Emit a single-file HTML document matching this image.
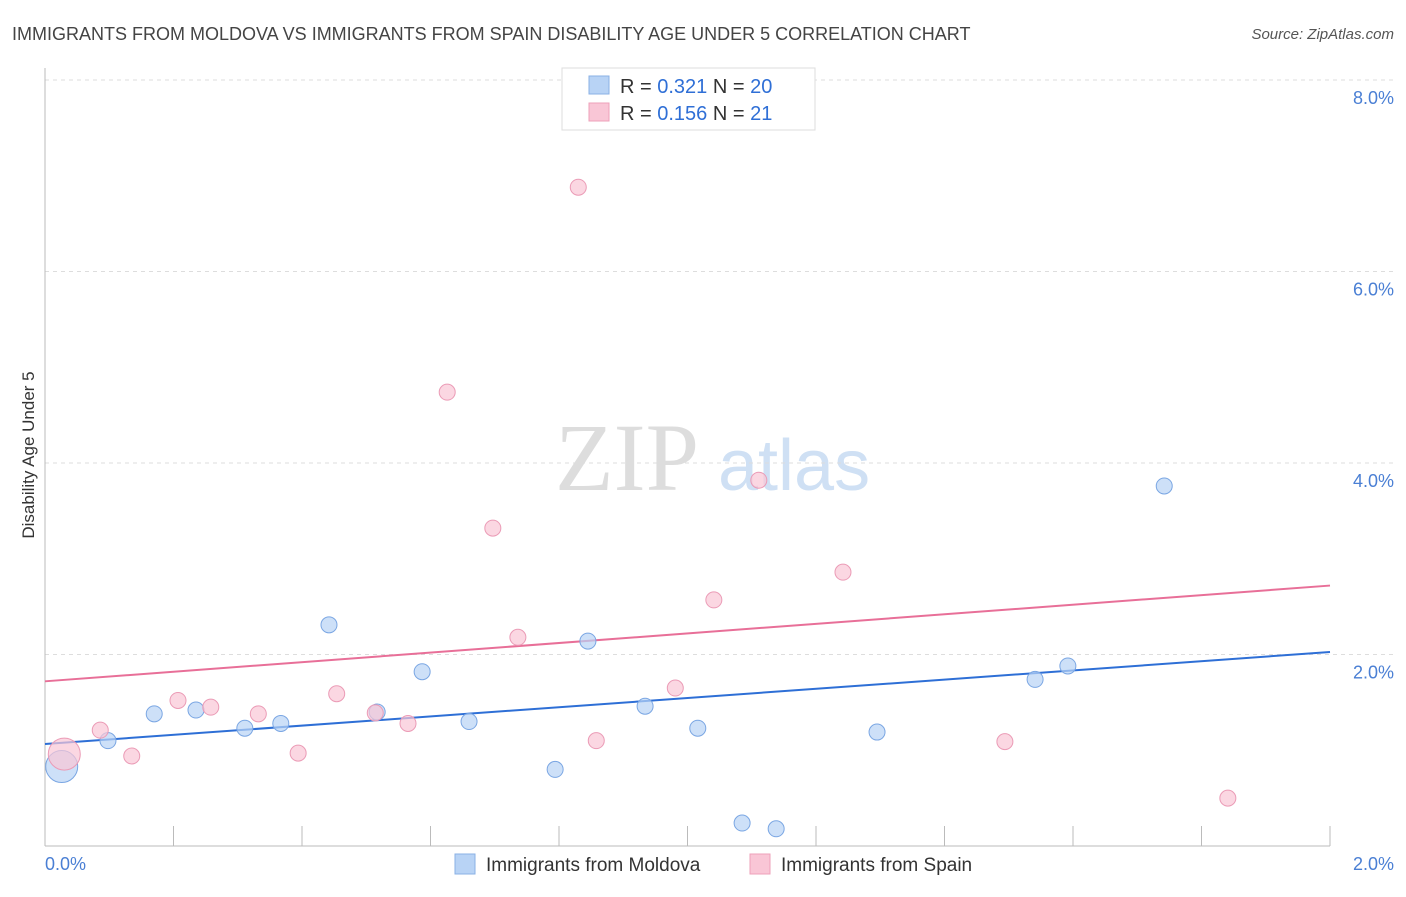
<!DOCTYPE html>
<html><head><meta charset="utf-8"><style>
body{margin:0;background:#fff;font-family:"Liberation Sans",sans-serif;}
</style></head><body>
<svg width="1406" height="892" xmlns="http://www.w3.org/2000/svg" font-family="Liberation Sans, sans-serif">
<text x="12" y="40" font-size="18" fill="#444">IMMIGRANTS FROM MOLDOVA VS IMMIGRANTS FROM SPAIN DISABILITY AGE UNDER 5 CORRELATION CHART</text>
<text x="1394" y="39" font-size="15" fill="#555" text-anchor="end" font-style="italic">Source: ZipAtlas.com</text>
<g><text x="555" y="490" font-size="96" fill="#ddd" font-family="Liberation Serif, serif">ZIP</text><text x="718" y="490" font-size="72" fill="#cfe0f4">atlas</text></g>
<g id="grid"></g><g id="axes"></g><g id="lines"></g><g id="pts"></g>
<text transform="translate(34,455) rotate(-90)" font-size="17" fill="#333" text-anchor="middle">Disability Age Under 5</text>
<text x="45" y="870" font-size="18" fill="#4a7fd4">0.0%</text>
<text x="1394" y="870" font-size="18" fill="#4a7fd4" text-anchor="end">2.0%</text>
<g>
<rect x="562" y="68" width="253" height="62" fill="#fff" stroke="#ddd"/>
<rect x="589" y="76" width="20" height="18" fill="#b8d3f5" stroke="#8ab0e5"/>
<rect x="589" y="103" width="20" height="18" fill="#f9c6d6" stroke="#eea0ba"/>
<text x="620" y="93" font-size="20" fill="#333">R = <tspan fill="#2f6fd6">0.321</tspan>   N = <tspan fill="#2f6fd6">20</tspan></text>
<text x="620" y="120" font-size="20" fill="#333">R = <tspan fill="#2f6fd6">0.156</tspan>   N =  <tspan fill="#2f6fd6">21</tspan></text>
</g>
<g>
<rect x="455" y="854" width="20" height="20" fill="#b8d3f5" stroke="#8ab0e5"/>
<text x="486" y="871" font-size="19" fill="#333">Immigrants from Moldova</text>
<rect x="750" y="854" width="20" height="20" fill="#f9c6d6" stroke="#eea0ba"/>
<text x="781" y="871" font-size="19" fill="#333">Immigrants from Spain</text>
</g>
</svg>
<script>
const yTicks=[2,4,6,8];
const yTickLabels=["2.0%","4.0%","6.0%","8.0%"];
const moldovaX=[0.026,0.098,0.170,0.235,0.311,0.367,0.442,0.517,0.587,0.660,0.794,0.845,0.934,1.016,1.085,1.138,1.295,1.541,1.592,1.742];
const moldovaY=[0.83,1.10,1.38,1.42,1.23,1.28,2.31,1.40,1.82,1.30,0.80,2.14,1.46,1.23,0.24,0.18,1.19,1.74,1.88,3.76];
const spainX=[0.030,0.086,0.135,0.207,0.258,0.332,0.394,0.454,0.514,0.565,0.626,0.697,0.736,0.830,0.858,0.981,1.041,1.111,1.242,1.494,1.841];
const spainY=[0.96,1.21,0.94,1.52,1.45,1.38,0.97,1.59,1.39,1.28,4.74,3.32,2.18,6.88,1.10,1.65,2.57,3.82,2.86,1.09,0.50];
const moldovaTrend=[1.065,2.026];
const spainTrend=[1.72,2.72];
const NS="http://www.w3.org/2000/svg";
const X=v=>45+v/2*1285, Y=v=>846-v*95.75;
function mk(t,a,p){const e=document.createElementNS(NS,t);for(const k in a)e.setAttribute(k,a[k]);document.getElementById(p).appendChild(e);return e;}
yTicks.forEach((t,i)=>{
 const l=mk('line',{x1:45,x2:1394,y1:Y(t),y2:Y(t),stroke:'#ddd','stroke-dasharray':'4,4'},'grid');
 
 
 const tx=mk('text',{x:1394,y:Y(t)+24,'font-size':18,fill:'#4a7fd4','text-anchor':'end'},'grid');
 tx.textContent=yTickLabels[i];
 
 
});
mk('line',{x1:45,x2:45,y1:68,y2:846,stroke:'#bbb'},'axes');
mk('line',{x1:45,x2:1330,y1:846,y2:846,stroke:'#bbb'},'axes');
for(let i=1;i<=10;i++){const t=mk('line',{x1:X(i*0.2),x2:X(i*0.2),y1:826,y2:846,stroke:'#bbb'},'axes');
 
 }
const pts=[[moldovaX,moldovaY,'#b8d3f5','#7aa6e3','moldova-point'],[spainX,spainY,'#f9c6d6','#eb9bb6','spain-point']];
pts.forEach(([xs,ys,f,s,n])=>xs.forEach((x,i)=>{
 const c=mk('circle',{cx:X(x),cy:Y(ys[i]),r:i==0?16:8,fill:f,'fill-opacity':0.7,stroke:s},'pts');
 
 
}));
const l1=mk('line',{x1:X(0),y1:Y(moldovaTrend[0]),x2:X(2),y2:Y(moldovaTrend[1]),stroke:'#2e6fd6','stroke-width':2},'lines');


const l2=mk('line',{x1:X(0),y1:Y(spainTrend[0]),x2:X(2),y2:Y(spainTrend[1]),stroke:'#e86f98','stroke-width':2},'lines');


</script>
</body></html>
